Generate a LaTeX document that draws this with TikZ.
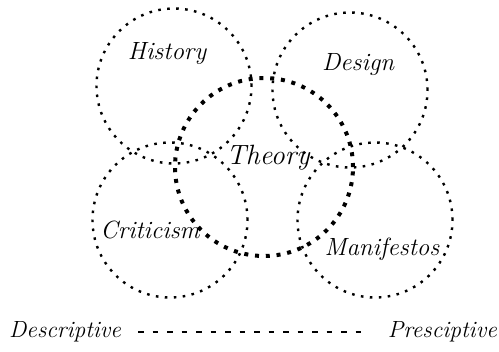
\documentclass[tikz,border=0pt]{standalone}
\usepackage{tikz}
\usetikzlibrary{positioning}
\tikzset{
	field/.style   ={circle, draw=black, line width=2.4bp, dash pattern=on 2.6bp off 6.4bp, minimum size=155bp, inner sep=0pt},
	core/.style    ={circle, draw=black, line width=4bp, dash pattern=on 4bp off 6.8bp, minimum size=178bp, inner sep=0pt},
	lbl/.style     ={font=\fontsize{25}{29}\selectfont\itshape, inner sep=0pt},
	axisline/.style={line width=2.2bp, dash pattern=on 5.5bp off 9bp},
}

\begin{document}
\begin{tikzpicture}[x=1bp, y=-1bp]
	\useasboundingbox (0,0) rectangle (499,351);
	% the five fields
	\node[field] (hist) at (174,86) {};
	\node[field] (des)  at (350,90) {};
	\node[field] (crit) at (170,220) {};
	\node[field] (man)  at (375,220) {};
	\node[core]  (th)   at (264,167) {};
	% labels
	\node[lbl] (lhist) at (167,54) {History};
	\node[lbl] (ldes)  at (358,65) {Design};
	\node[lbl, font=\fontsize{28}{32}\selectfont\itshape] (lth) at (268,158) {Theory};
	\node[lbl] (lcrit) at (150,230) {Criticism};
	\node[lbl] (lman)  at (382,249) {Manifestos};
	% descriptive -- prescriptive axis
	\node[lbl, font=\fontsize{23.5}{27}\selectfont\itshape, anchor=west] (desc) at (9,332) {Descriptive};
	\node[lbl, font=\fontsize{23.5}{27}\selectfont\itshape, anchor=east] (pres) at (497,332) {Presciptive};
	\draw[axisline] ([xshift=17bp]desc.east) -- ([xshift=-21bp]pres.west);
\end{tikzpicture}
\end{document}
